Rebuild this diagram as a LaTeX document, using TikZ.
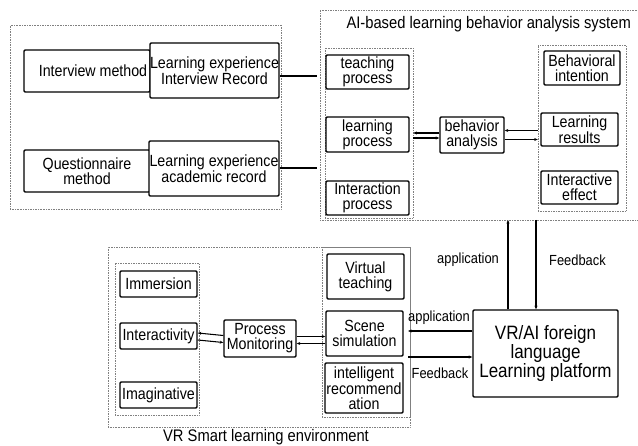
\documentclass[tikz,border=0pt]{standalone}
\usepackage{fontspec}
\setmainfont[FakeStretch=0.88]{Liberation Sans}
\usetikzlibrary{fit,arrows.meta}
\newlength\px
\setlength\px{0.3mm}
\newcommand\boxfont{\fontsize{13.8}{12.8}\selectfont}
\newcommand\bigfont{\fontsize{16.5}{13}\selectfont}
\newcommand\lblfont{\fontsize{12.5}{12}\selectfont}
\newcommand\titlefont{\fontsize{14.3}{14}\selectfont}
\begin{document}
\begin{tikzpicture}[x=0.3mm,y=-0.3mm,
  box/.style={draw,line width=1.2pt,rounded corners=1pt,align=center,inner sep=0pt,font=\boxfont},
  sz/.style 2 args={minimum width=#1\px,minimum height=#2\px},
  grp/.style={draw=gray,densely dotted,thin,inner sep=0pt},
  link/.style={line width=0.9pt},
  tip/.style={link,-{Stealth[length=3pt,width=2.5pt]}},
  lbl/.style={font=\lblfont}]
\useasboundingbox (0,0) rectangle (638,446);
% groups
\node[grp,fit={(10,25) (281,209)}] (src) {};
\node[grp,fit={(320,10) (640,220)}] (sys) {};
\node[grp,fit={(325,48) (413,218)}] (proc) {};
\node[grp,fit={(538,45) (626,211)}] (res) {};
\node[grp,fit={(108,247) (410,427)}] (env) {};
\node[grp,fit={(115,263) (199,415)}] (feat) {};
\node[grp,fit={(322,247) (410,417)}] (func) {};
\node[font=\titlefont,anchor=east] (systitle) at (635,24) {AI-based learning behavior analysis system};
\node[font=\titlefont] (envtitle) at (266,437) {VR Smart learning environment};
% data sources
\node[box,sz={126}{42}] (interview) at (87,71) {};
\node[font=\boxfont] (interviewtxt) at (93,71) {Interview method};
\node[box,sz={129}{55},fill=white] (recint) at (214.5,70.5) {Learning experience\\Interview Record};
\node[box,sz={126}{42}] (quest) at (87,171) {Questionnaire\\method};
\node[box,sz={130}{55},fill=white] (recacad) at (214,168.5) {Learning experience\\academic record};
% analysis system
\node[box,sz={83}{34}] (teach) at (367.5,72) {teaching\\process};
\node[box,sz={83}{35}] (learn) at (367.5,134.5) {learning\\process};
\node[box,sz={83}{34}] (inter) at (367.5,198) {Interaction\\process};
\node[box,sz={64}{36}] (analysis) at (472,135) {behavior\\analysis};
\node[box,sz={76}{34}] (intent) at (582,68) {Behavioral\\intention};
\node[box,sz={77}{33}] (result) at (579.5,129.5) {Learning\\results};
\node[box,sz={77}{33}] (effect) at (579.5,187.5) {Interactive\\effect};
% platform
\node[box,sz={145}{87},font=\bigfont] (platform) at (545.5,353.5) {VR/AI foreign\\language\\Learning platform};
% smart environment
\node[box,sz={77}{26}] (immer) at (158.5,284) {Immersion};
\node[box,sz={77}{26}] (interact) at (158.5,336) {Interactivity};
\node[box,sz={77}{26}] (imagin) at (158.5,395) {Imaginative};
\node[box,sz={72}{37}] (monitor) at (260,338.5) {Process\\Monitoring};
\node[box,sz={77}{45}] (virtual) at (365.5,276.5) {Virtual\\teaching};
\node[box,sz={77}{45}] (scene) at (364.5,333.5) {Scene\\simulation};
\node[box,sz={78}{50}] (recom) at (364,388) {intelligent\\recommend\\ation};
% connectors
\coordinate (in1) at (317,76);
\coordinate (in2) at (317,168);
\draw[link] (recint.east |- in1) -- (in1);
\draw[link] (recacad.east |- in2) -- (in2);
\draw[tip] ([yshift=2\px]analysis.west) -- ([yshift=2\px]analysis.west -| proc.east);
\draw[tip] ([yshift=-3\px]analysis.west -| proc.east) -- ([yshift=-3\px]analysis.west);
\draw[tip] ([yshift=-1\px]res.west |- result.west) -- ([yshift=-1\px]analysis.east |- result.west);
\draw[tip] ([yshift=-10\px]analysis.east |- result.west) -- ([yshift=-10\px]res.west |- result.west);
\draw[tip] ([yshift=3\px]monitor.west) -- ([yshift=3\px]interact.east);
\draw[tip] ([yshift=-4\px]interact.east) -- ([yshift=-4\px]monitor.west);
\draw[tip] ([yshift=2\px]monitor.east) -- ([yshift=2\px]monitor.east -| scene.west);
\draw[tip] ([yshift=-5\px]monitor.east -| scene.west) -- ([yshift=-5\px]monitor.east);
\coordinate (appup) at (508,220);
\coordinate (fbup) at (536,220);
\draw[tip] (appup |- platform.north) -- (appup);
\draw[tip] (fbup) -- (fbup |- platform.north);
\coordinate (appl) at (408,331);
\coordinate (fbl) at (408,357);
\draw[tip] (appl -| platform.west) -- (appl);
\draw[tip] (fbl) -- (fbl -| platform.west);
% labels
\node[lbl,anchor=east] (lappup) at (503,260) {application};
\node[lbl,anchor=west] (lfbup) at (545,260) {Feedback};
\node[lbl] (lappl) at (439,318) {application};
\node[lbl] (lfbl) at (440,373) {Feedback};
\end{tikzpicture}
\end{document}
